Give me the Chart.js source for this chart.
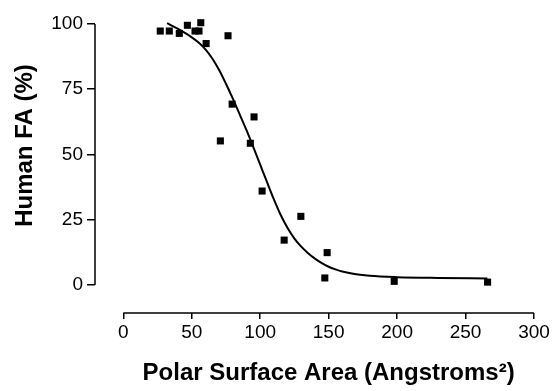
<!DOCTYPE html>
<html>
<head>
<meta charset="utf-8">
<script src="https://cdn.jsdelivr.net/npm/chart.js@4.4.0/dist/chart.umd.min.js"></script>
<style>
  html, body { margin: 0; padding: 0; background: #fff; }
</style>
</head>
<body>
<canvas id="psaChart" width="553" height="391"></canvas>
<script>
// measured compounds
var psaValues = [27.0, 33.6, 40.9, 46.8, 52.4, 55.3, 56.6, 60.5, 70.9, 76.5, 79.5, 92.8, 95.5, 101.4, 117.5, 129.7, 147.2, 148.9, 197.9, 266.1];
var faValues = [97.3, 97.3, 96.4, 99.5, 97.3, 97.3, 100.5, 92.5, 55.2, 95.5, 69.3, 54.3, 64.4, 36.0, 17.2, 26.3, 2.7, 12.4, 1.4, 1.1];

// fitted curve
var fitPsa = [32, 40, 50, 55, 60, 65, 70, 75, 80, 85, 90, 95, 100, 105, 110, 115, 120, 125, 130, 135, 140, 145, 150, 155, 160, 170, 180, 200, 230, 266];
var fitFa = [100.3, 98.1, 94.9, 92.9, 90.3, 86.8, 82.4, 77.1, 71.4, 65.4, 59.3, 52.8, 46.1, 39.4, 32.8, 26.8, 21.8, 17.8, 14.7, 12.2, 10.1, 8.4, 7.0, 6.0, 5.2, 4.1, 3.5, 3.0, 2.7, 2.5];

var xTicks = [0, 50, 100, 150, 200, 250, 300];
var yTicks = [0, 25, 50, 75, 100];
var xTitle = "Polar Surface Area (Angstroms²)";
var yTitle = "Human FA (%)";

var pts = psaValues.map(function (v, i) { return { x: v, y: faValues[i] }; });
var fit = fitPsa.map(function (v, i) { return { x: v, y: fitFa[i] }; });

// axis lines stop at 0 / 100 and 0 / 300, titles centred on those segments
var axisPlugin = {
  id: "axisLines",
  afterDraw: function (chart) {
    var ctx = chart.ctx;
    var xs = chart.scales.x, ys = chart.scales.y;
    var left = chart.chartArea.left, bottom = chart.chartArea.bottom;
    ctx.save();
    ctx.strokeStyle = "#000";
    ctx.lineWidth = 1.5;
    ctx.beginPath();
    ctx.moveTo(left, ys.getPixelForValue(0));
    ctx.lineTo(left, ys.getPixelForValue(100));
    ctx.moveTo(xs.getPixelForValue(0), bottom);
    ctx.lineTo(xs.getPixelForValue(300), bottom);
    ctx.stroke();

    ctx.fillStyle = "#000";
    ctx.font = "bold 24px 'Liberation Sans', Arial, sans-serif";
    ctx.textAlign = "center";
    ctx.textBaseline = "middle";
    ctx.fillText(xTitle, (xs.getPixelForValue(0) + xs.getPixelForValue(300)) / 2, 373);
    ctx.translate(25, (ys.getPixelForValue(0) + ys.getPixelForValue(100)) / 2 - 9);
    ctx.rotate(-Math.PI / 2);
    ctx.fillText(yTitle, 0, 0);
    ctx.restore();
  }
};

var tickFont = { family: "'Liberation Sans', Arial, sans-serif", size: 19 };

new Chart("psaChart", {
  type: "scatter",
  data: {
    datasets: [
      {
        label: "fit",
        type: "line",
        data: fit,
        borderColor: "#000",
        borderWidth: 2,
        pointRadius: 0,
        cubicInterpolationMode: "monotone",
        fill: false,
        clip: false,
      },
      {
        label: "compounds",
        data: pts,
        pointStyle: "rect",
        pointRadius: 5,
        backgroundColor: "#000",
        borderColor: "#000",
        borderWidth: 0,
        clip: false,
      },
    ],
  },
  options: {
    responsive: false,
    animation: false,
    devicePixelRatio: 1,
    layout: { padding: { top: 24, right: 19, left: 0, bottom: 0 } },
    plugins: { legend: { display: false }, tooltip: { enabled: false } },
    scales: {
      x: {
        type: "linear",
        min: -20.67,
        max: 300,
        afterBuildTicks: function (s) { s.ticks = xTicks.map(function (v) { return { value: v }; }); },
        afterFit: function (s) { s.height = 78; },
        grid: { drawOnChartArea: false, tickLength: 6, color: "#000", lineWidth: 1.5 },
        border: { display: false },
        ticks: { color: "#000", font: tickFont, padding: 2, maxRotation: 0, autoSkip: false },
      },
      y: {
        min: -10.73,
        max: 100,
        afterBuildTicks: function (s) { s.ticks = yTicks.map(function (v) { return { value: v }; }); },
        afterFit: function (s) { s.width = 95; },
        grid: { drawOnChartArea: false, tickLength: 8, color: "#000", lineWidth: 1.5 },
        border: { display: false },
        ticks: { color: "#000", font: tickFont, padding: 4 },
      },
    },
  },
  plugins: [axisPlugin],
});
</script>
</body>
</html>
